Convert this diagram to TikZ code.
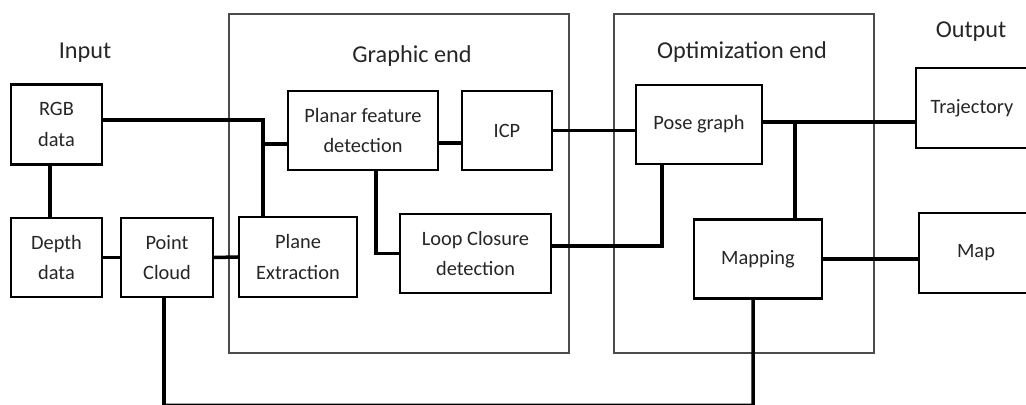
\documentclass[tikz,border=0pt]{standalone}
\usepackage{fontspec}
\setmainfont{Carlito}
\usepackage{tikz}

\tikzset{
    blk/.style={draw, line width=1.2pt, fill=white, align=center, inner sep=0pt,
        text=black!85, font=\fontsize{11.6}{17.5}\selectfont},
    frm/.style={draw=black!70, line width=1.1pt, inner sep=0pt},
    ttl/.style={text=black!85, font=\fontsize{13.8}{16}\selectfont},
    wire/.style={line width=2pt}
}

\begin{document}
\begin{tikzpicture}[x=0.02cm, y=-0.02cm]
    	\useasboundingbox (0, 0) rectangle (1026, 405);
    	\clip (0, 0) rectangle (1026, 405);
    	% Frames and titles:
    	\node[frm, minimum width=6.8cm, minimum height=6.78cm] (gfx) at (399, 183.5) {};
    	\node[frm, minimum width=5.2cm, minimum height=6.78cm] (opt) at (744, 183.5) {};
    	\node[ttl] (tin) at (85, 53) {Input};
    	\node[ttl] (tgfx) at (412, 56) {Graphic end};
    	\node[ttl] (topt) at (742, 52) {Optimization end};
    	\node[ttl] (tout) at (971, 32) {Output};
    	% Blocks:
    	\node[blk, minimum width=1.82cm, minimum height=1.6cm] (rgb) at (56.5, 124.5) {RGB\\data};
    	\node[blk, minimum width=1.82cm, minimum height=1.58cm] (depth) at (56.5, 257.5) {Depth\\data};
    	\node[blk, minimum width=1.84cm, minimum height=1.58cm] (cloud) at (167, 257.5) {Point\\Cloud};
    	\node[blk, minimum width=2.36cm, minimum height=1.6cm] (plane) at (298, 257) {Plane\\Extraction};
    	\node[blk, minimum width=3cm, minimum height=1.58cm] (planar) at (363, 130.5) {Planar feature\\detection};
    	\node[blk, minimum width=1.8cm, minimum height=1.58cm] (icp) at (507, 130.5) {ICP};
    	\node[blk, minimum width=3.02cm, minimum height=1.58cm] (loop) at (475.5, 253.5) {Loop Closure\\detection};
    	\node[blk, minimum width=2.52cm, minimum height=1.58cm] (pose) at (699, 124.5) {Pose graph};
    	\node[blk, minimum width=2.56cm, minimum height=1.58cm] (mapping) at (758, 259) {Mapping};
    	\node[blk, minimum width=2.24cm, minimum height=1.6cm] (traj) at (972, 108) {Trajectory};
    	\node[blk, minimum width=2.28cm, minimum height=1.6cm] (mapnode) at (976, 253) {Map};
    	% Wires:
    	\coordinate (j1) at (263, 120);
    	\coordinate (j2) at (795, 122);
    	\coordinate (bot) at (164, 405.5);
    	\draw[wire] ([yshift=0.09cm]rgb.east) -- (j1) -- (j1 |- plane.north);
    	\draw[wire] ([yshift=-0.27cm]planar.west) -| (j1);
    	\draw[wire] ([xshift=-0.13cm]rgb.south) -- ([xshift=-0.13cm]depth.north);
    	\draw[wire] (depth.east) -- (cloud.west);
    	\draw[wire] (cloud.east) -- (plane.west);
    	\draw[wire] ([yshift=-0.25cm]planar.east) -- ([yshift=-0.25cm]icp.west);
    	\draw[wire] ([xshift=0.26cm]planar.south) |- (loop.west);
    	\draw[wire] (icp.east) -- (icp.east -| pose.west);
    	\draw[wire] ([xshift=-0.74cm]pose.south) |- ([yshift=0.15cm]loop.east);
    	\draw[wire] ([yshift=0.05cm]pose.east) -- (j2) -- (j2 -| traj.west);
    	\draw[wire] (j2) -- (j2 |- mapping.north);
    	\draw[wire] (mapping.east) -- (mapping.east -| mapnode.west);
    	\draw[wire] ([xshift=-0.06cm]cloud.south) -- (bot) -| ([xshift=-0.1cm]mapping.south);
    \end{tikzpicture}
\end{document}
